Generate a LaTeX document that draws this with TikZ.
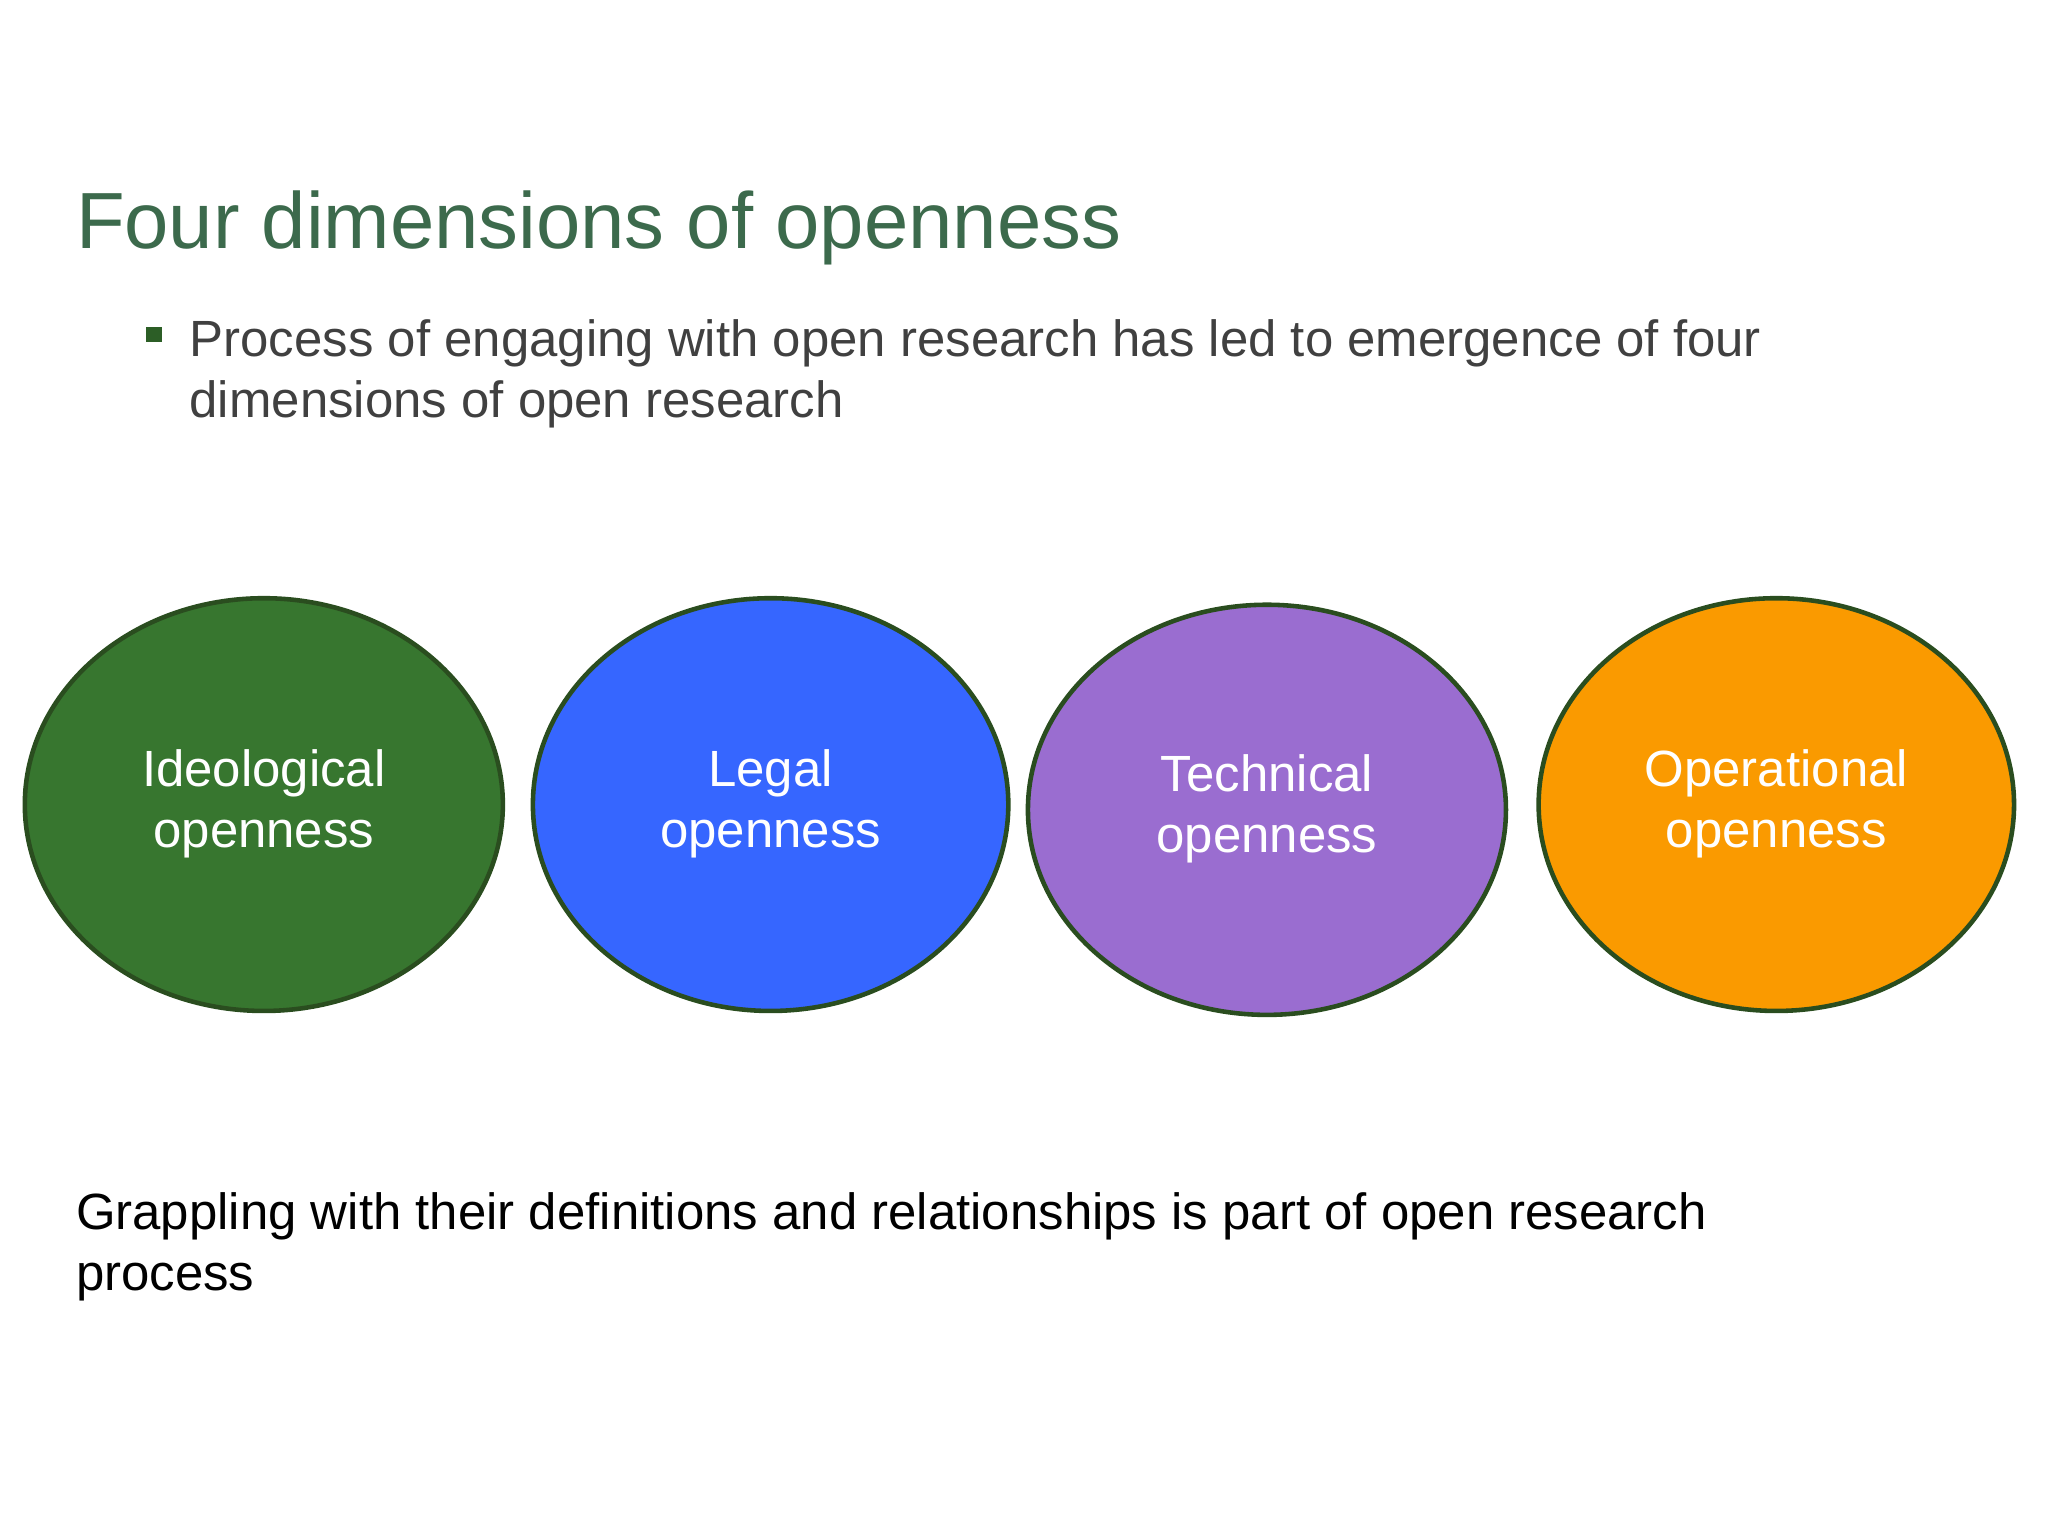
\documentclass[tikz,border=0pt]{standalone}
\usepackage{fontspec}
\setmainfont{Liberation Sans}
\usetikzlibrary{shapes.geometric}
\definecolor{titlec}{HTML}{3C6A4C}
\definecolor{bodyc}{HTML}{404040}
\definecolor{rimc}{HTML}{2A4D1F}
\definecolor{c1}{HTML}{37762F}
\definecolor{c2}{HTML}{3666FF}
\definecolor{c3}{HTML}{9A6DD0}
\definecolor{c4}{HTML}{FA9A00}
\begin{document}
\begin{tikzpicture}[x=1pt,y=-1pt,
  dim/.style={ellipse,draw=rimc,line width=3.5pt,text=white,align=center,
    font=\fontsize{39}{47}\selectfont,inner sep=0pt}]
\useasboundingbox (0,0) rectangle (1568,1176);
\node[anchor=base west,text=titlec,font=\fontsize{61}{70}\selectfont,inner sep=0pt] (title) at (58,190) {Four dimensions of openness};
\fill[color=c1!80!black] (112,250) rectangle (124,262);
\node[anchor=base west,text=bodyc,font=\fontsize{39}{47}\selectfont,inner sep=0pt,align=left] (bul) at (145,320) {Process of engaging with open research has led to emergence of four\\dimensions of open research};
\node[dim,fill=c1,minimum width=366,minimum height=316] (a) at (202,616) {\raisebox{-4pt}{\begin{tabular}{@{}c@{}}Ideological\\openness\end{tabular}}};
\node[dim,fill=c2,minimum width=364,minimum height=316] (b) at (590,616) {\raisebox{-4pt}{\begin{tabular}{@{}c@{}}Legal\\openness\end{tabular}}};
\node[dim,fill=c3,minimum width=366,minimum height=314] (c) at (970,620) {\raisebox{-4pt}{\begin{tabular}{@{}c@{}}Technical\\openness\end{tabular}}};
\node[dim,fill=c4,minimum width=364,minimum height=316] (d) at (1360,616) {\raisebox{-4pt}{\begin{tabular}{@{}c@{}}Operational\\openness\end{tabular}}};
\node[anchor=base west,text=black,font=\fontsize{39}{47}\selectfont,inner sep=0pt,align=left] (foot) at (58,988) {Grappling with their definitions and relationships is part of open research\\process};
\end{tikzpicture}
\end{document}
